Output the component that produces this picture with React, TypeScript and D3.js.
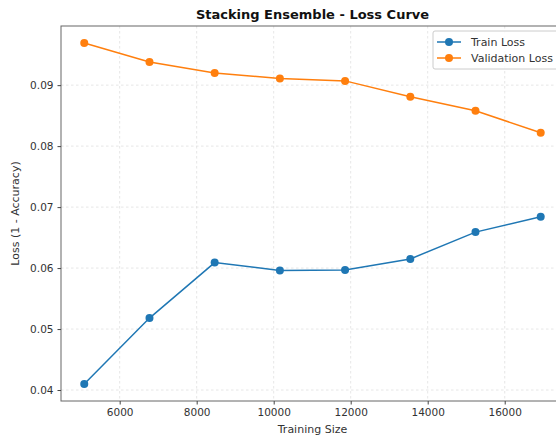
import React, { useEffect, useRef } from 'react';
import * as d3 from 'd3';

// values
const trainSizes = [5080, 6774, 8467, 10161, 11854, 13548, 15241, 16935];
const trainLoss = [0.0410, 0.0518, 0.0609, 0.0596, 0.0597, 0.0615, 0.0659, 0.0684];
const valLoss = [0.0969, 0.0938, 0.0920, 0.0911, 0.0907, 0.0881, 0.0858, 0.0822];
const xTicks = [6000, 8000, 10000, 12000, 14000, 16000];
const yTicks = [0.04, 0.05, 0.06, 0.07, 0.08, 0.09];
const seriesNames = ['Train Loss', 'Validation Loss'];
const seriesColors = ['#1f77b4', '#ff7f0e'];

const W = 556, H = 438;
const FONT = 'DejaVu Sans, sans-serif';

const App = () => {
  const ref = useRef<SVGSVGElement>(null);

  useEffect(() => {
    const svg = d3.select(ref.current);
    svg.selectAll('*').remove();

    const margin = { top: 26, right: -8, bottom: 37, left: 61 };
    const width = W - margin.left - margin.right,
      height = H - margin.top - margin.bottom;

    const x = d3.scaleLinear().domain([4476, 17540]).range([0, width]);
    const y = d3.scaleLinear().domain([0.0382, 0.0997]).range([height, 0]);

    const g = svg.append('g').attr('transform', `translate(${margin.left},${margin.top})`);

    // grid
    g.selectAll('.gx').data(xTicks).enter().append('line')
      .attr('x1', d => x(d)).attr('x2', d => x(d))
      .attr('y1', 0).attr('y2', height)
      .attr('stroke', '#e0e0e0').attr('stroke-dasharray', '2.5,2.5').attr('stroke-width', 0.8);
    g.selectAll('.gy').data(yTicks).enter().append('line')
      .attr('x1', 0).attr('x2', width)
      .attr('y1', d => y(d)).attr('y2', d => y(d))
      .attr('stroke', '#e0e0e0').attr('stroke-dasharray', '2.5,2.5').attr('stroke-width', 0.8);

    // frame
    g.append('rect').attr('width', width).attr('height', height)
      .attr('fill', 'none').attr('stroke', '#666').attr('stroke-width', 1);

    // axes
    const xAxis = g.append('g').attr('transform', `translate(0,${height})`)
      .call(d3.axisBottom(x).tickValues(xTicks).tickFormat(d3.format('d')).tickSize(3.5).tickPadding(4));
    const yAxis = g.append('g')
      .call(d3.axisLeft(y).tickValues(yTicks).tickFormat(d3.format('.2f')).tickSize(3.5).tickPadding(4));
    [xAxis, yAxis].forEach(a => {
      a.select('.domain').remove();
      a.selectAll('line').attr('stroke', '#444');
      a.selectAll('text').attr('fill', '#333').style('font-size', '10.5px')
        .style('font-family', FONT);
    });

    // series
    const line = d3.line<number>().x((d, i) => x(trainSizes[i])).y(d => y(d));
    [trainLoss, valLoss].forEach((vals, k) => {
      g.append('path').datum(vals)
        .attr('d', line).attr('fill', 'none')
        .attr('stroke', seriesColors[k]).attr('stroke-width', 1.5);
      g.selectAll(`.pt${k}`).data(vals).enter().append('circle')
        .attr('cx', (d, i) => x(trainSizes[i])).attr('cy', d => y(d))
        .attr('r', 4).attr('fill', seriesColors[k]);
    });

    // title and labels
    svg.append('text').attr('x', margin.left + width / 2).attr('y', 19)
      .attr('text-anchor', 'middle').style('font-family', FONT)
      .style('font-size', '13px').style('font-weight', 'bold').attr('fill', '#111')
      .text('Stacking Ensemble - Loss Curve');
    svg.append('text').attr('x', margin.left + width / 2).attr('y', 433)
      .attr('text-anchor', 'middle').style('font-family', FONT)
      .style('font-size', '11px').attr('fill', '#333').text('Training Size');
    svg.append('text').attr('transform', `translate(19,${margin.top + height / 2}) rotate(-90)`)
      .attr('text-anchor', 'middle').style('font-family', FONT)
      .style('font-size', '11px').attr('fill', '#333').text('Loss (1 - Accuracy)');

    // legend
    const lg = svg.append('g').attr('transform', 'translate(433,31)');
    lg.append('rect').attr('width', 130).attr('height', 38).attr('rx', 2)
      .attr('fill', 'white').attr('fill-opacity', 0.85).attr('stroke', '#ccc');
    seriesNames.forEach((name, k) => {
      const yy = 11 + k * 16;
      lg.append('line').attr('x1', 4).attr('x2', 28).attr('y1', yy).attr('y2', yy)
        .attr('stroke', seriesColors[k]).attr('stroke-width', 1.5);
      lg.append('circle').attr('cx', 16).attr('cy', yy).attr('r', 4).attr('fill', seriesColors[k]);
      lg.append('text').attr('x', 38).attr('y', yy + 4)
        .style('font-family', FONT).style('font-size', '11px')
        .attr('fill', '#333').text(name);
    });
  }, []);

  return <svg ref={ref} width={W} height={H} style={{ display: 'block', position: 'absolute', left: 0, top: 0 }} />;
};

export default App;
